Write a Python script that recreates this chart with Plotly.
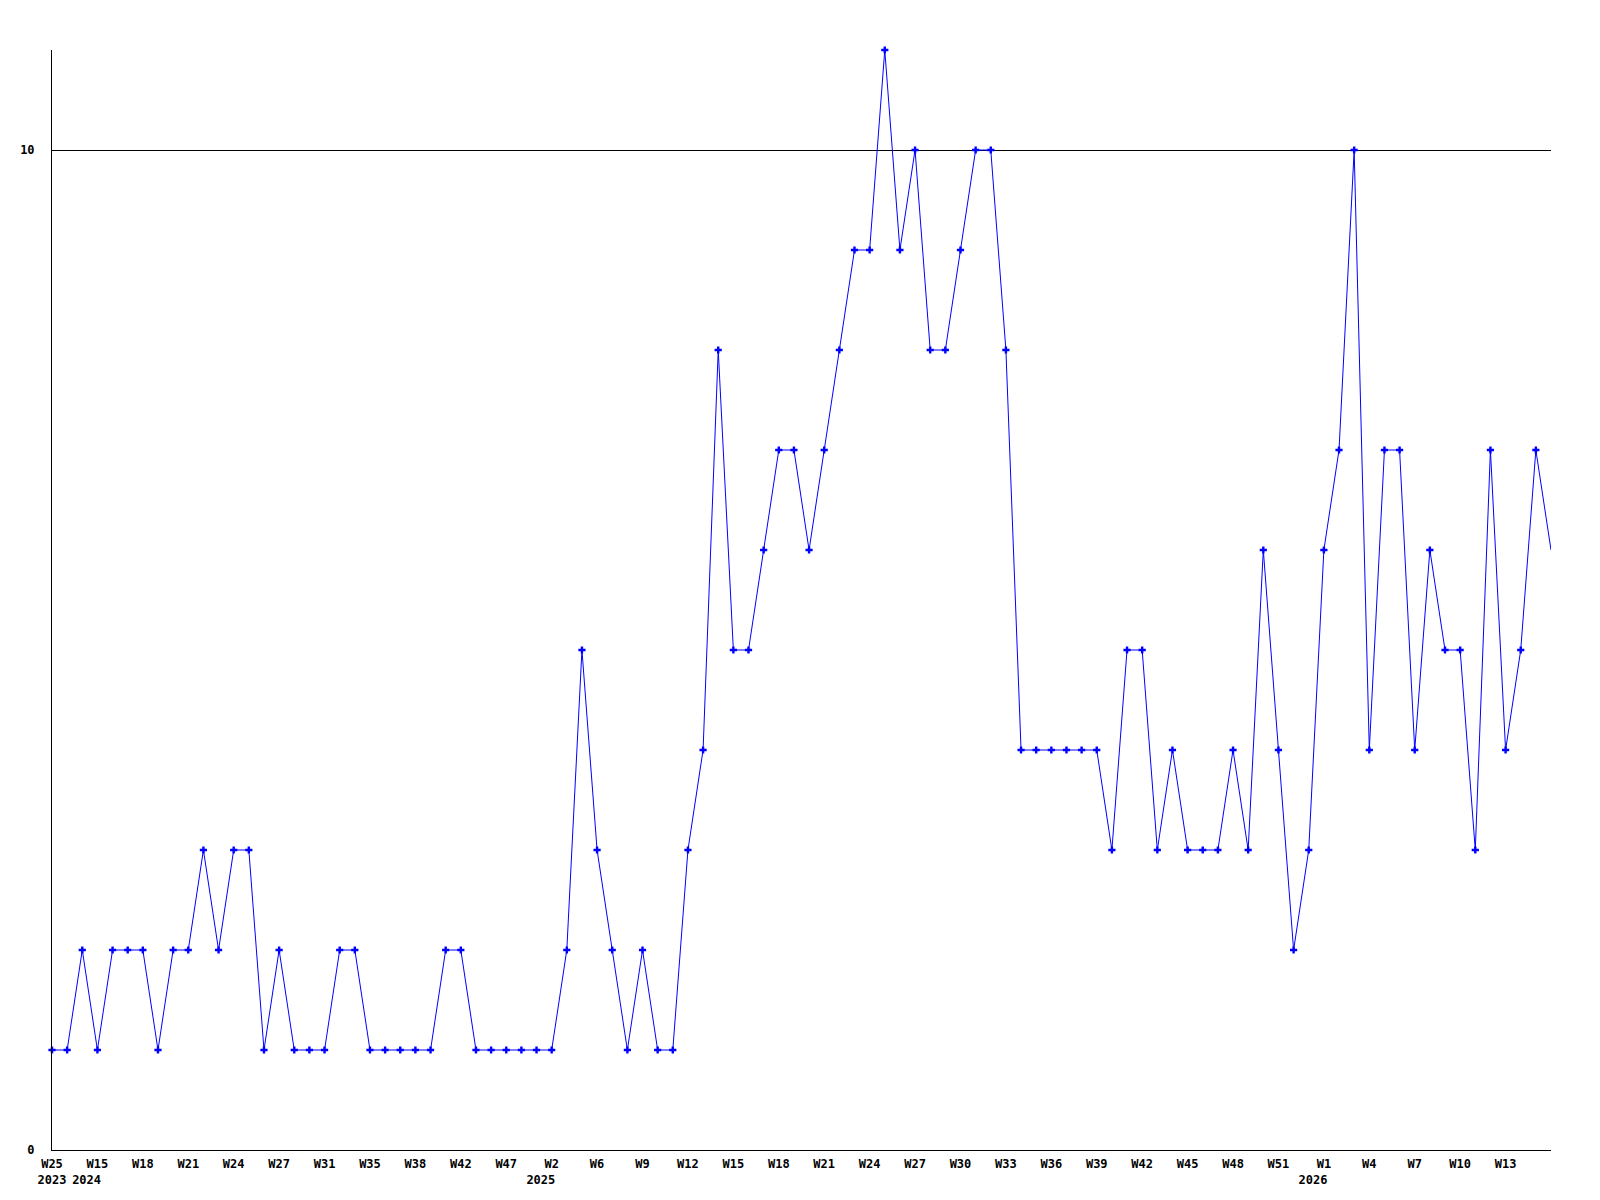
import plotly.graph_objects as go

# weekly counts, one per plotted point
values = [1, 1, 2, 1, 2, 2, 2, 1, 2, 2,
          3, 2, 3, 3, 1, 2, 1, 1, 1, 2,
          2, 1, 1, 1, 1, 1, 2, 2, 1, 1,
          1, 1, 1, 1, 2, 5, 3, 2, 1, 2,
          1, 1, 3, 4, 8, 5, 5, 6, 7, 7,
          6, 7, 8, 9, 9, 11, 9, 10, 8, 8,
          9, 10, 10, 8, 4, 4, 4, 4, 4, 4,
          3, 5, 5, 3, 4, 3, 3, 3, 4, 3,
          6, 4, 2, 3, 6, 7, 10, 4, 7, 7,
          4, 6, 5, 5, 3, 7, 4, 5, 7, 6]

# every third point gets a label
week_labels = ["W25", "W15", "W18", "W21", "W24", "W27", "W31", "W35", "W38",
               "W42", "W47", "W2", "W6", "W9", "W12", "W15", "W18", "W21",
               "W24", "W27", "W30", "W33", "W36", "W39", "W42", "W45", "W48",
               "W51", "W1", "W4", "W7", "W10", "W13"]
year_labels = ["2023", "2024", "", "", "", "", "", "", "",
               "", "", "2025", "", "", "", "", "", "",
               "", "", "", "", "", "", "", "", "",
               "", "2026", "", "", "", ""]

y_ticks = [0, 10]

x = list(range(len(values)))
tick_pos = x[::3][:len(week_labels)]
nb = "\u00a0"
tick_text = []
for i, (w, yr) in enumerate(zip(week_labels, year_labels)):
    if not yr:
        tick_text.append(w)
    elif i == 0:
        tick_text.append(w + "<br>" + yr)
    else:
        # years sit a little left of their week label
        tick_text.append(w + "<br>" + yr + nb * 3)

font = dict(family="DejaVu Sans Mono", size=12, color="black", weight="bold")

fig = go.Figure()
fig.add_trace(go.Scatter(x=x, y=values, mode="lines",
                         line=dict(color="#0000ff", width=1),
                         hoverinfo="skip", cliponaxis=False))
fig.add_trace(go.Scatter(x=x[:-1], y=values[:-1], mode="markers",
                         marker=dict(symbol="cross", size=6, color="#0000ff",
                                     line=dict(width=0)),
                         cliponaxis=False))

fig.update_layout(
    width=1600, height=1200,
    margin=dict(l=42, r=57, t=42, b=58),
    paper_bgcolor="white", plot_bgcolor="white",
    showlegend=False,
    font=font,
)
fig.update_xaxes(range=[0, len(values) - 1], tickmode="array",
                 tickvals=tick_pos, ticktext=tick_text, tickangle=0,
                 showgrid=False, zeroline=False, showline=True,
                 linecolor="black", linewidth=1, ticks="",
                 ticklabelstandoff=3, tickfont=font)
fig.update_yaxes(range=[0, 11], tickmode="array", tickvals=y_ticks,
                 ticktext=[str(t) for t in y_ticks],
                 showgrid=True, gridcolor="black", gridwidth=1,
                 zeroline=False, showline=True, linecolor="black",
                 linewidth=1, ticks="", ticklabelstandoff=14,
                 tickfont=font)

fig.write_html("out.html")
